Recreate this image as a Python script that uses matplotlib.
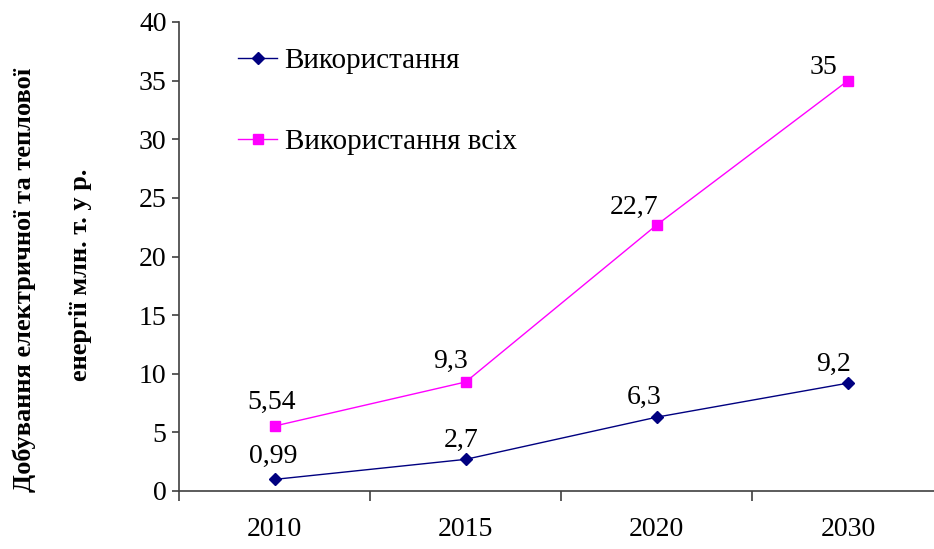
import matplotlib
matplotlib.use("Agg")
import matplotlib.pyplot as plt

years = ["2010", "2015", "2020", "2030"]
use_values = [0.99, 2.7, 6.3, 9.2]
use_all_values = [5.54, 9.3, 22.7, 35]
use_labels = ["0,99", "2,7", "6,3", "9,2"]
use_all_labels = ["5,54", "9,3", "22,7", "35"]
series_names = ["Використання", "Використання всіх"]
ylabel_lines = ["Добування електричної та теплової", "енергії млн. т. у р."]

# label offsets (pixels): center-x offset, baseline offset above point
use_offsets = [(-1, 16), (-5, 12), (-13, 13), (-14, 12)]
use_all_offsets = [(-3, 17), (-15, 14), (-23, 11), (-25, 7)]

plt.rcParams['font.family'] = ['Liberation Serif', 'DejaVu Serif']

fig = plt.figure(figsize=(9.34, 5.49), dpi=100)
ax = fig.add_axes([179/934, 1-491/549, 1-179/934, (491-22)/549])

x = list(range(len(years)))
navy = '#000080'
magenta = '#FF00FF'
l1, = ax.plot(x, use_values, color=navy, lw=1.0, marker='D', ms=6.5,
              mfc=navy, mec=navy, label=series_names[0])
l2, = ax.plot(x, use_all_values, color=magenta, lw=1.0, marker='s', ms=6.5,
              mfc=magenta, mec=magenta, label=series_names[1])

for xi, v, t, (dx, dy) in zip(x, use_values, use_labels, use_offsets):
    ax.annotate(t, (xi, v), xytext=(dx, dy), textcoords='offset pixels',
                ha='center', va='baseline', fontsize=20)
for xi, v, t, (dx, dy) in zip(x, use_all_values, use_all_labels, use_all_offsets):
    ax.annotate(t, (xi, v), xytext=(dx, dy), textcoords='offset pixels',
                ha='center', va='baseline', fontsize=20)

ax.set_xlim(-0.5, 3.45)
ax.set_ylim(0, 40)
ax.set_yticks(range(0, 41, 5))
ax.set_xticks(x)
ax.set_xticklabels(years)
ax.set_xticks([-0.5, 0.5, 1.5, 2.5], minor=True)

spine_c = '#404040'
for s in ['top', 'right']:
    ax.spines[s].set_visible(False)
for s in ['left', 'bottom']:
    ax.spines[s].set_color(spine_c)
    ax.spines[s].set_linewidth(1.2)

ax.tick_params(axis='x', which='major', length=0, pad=18.5, labelsize=20)
ax.tick_params(axis='x', which='minor', length=7, width=1.2, color=spine_c, direction='out')
ax.tick_params(axis='y', length=5, width=1.2, color=spine_c, pad=4, labelsize=20)

leg = ax.legend(handles=[l1, l2], loc='upper left', bbox_to_anchor=(238/934, 1-48/549),
                bbox_transform=fig.transFigure, frameon=False, fontsize=21,
                handlelength=1.35, handletextpad=0.25, labelspacing=1.85,
                borderaxespad=0, borderpad=0)

fig.text(24/934, 1-280/549, ylabel_lines[0], rotation=90, ha='center', va='center',
         fontsize=19, fontweight='bold')
fig.text(81/934, 1-275/549, ylabel_lines[1], rotation=90, ha='center', va='center',
         fontsize=19, fontweight='bold')

fig.savefig('out.png', dpi=100)
